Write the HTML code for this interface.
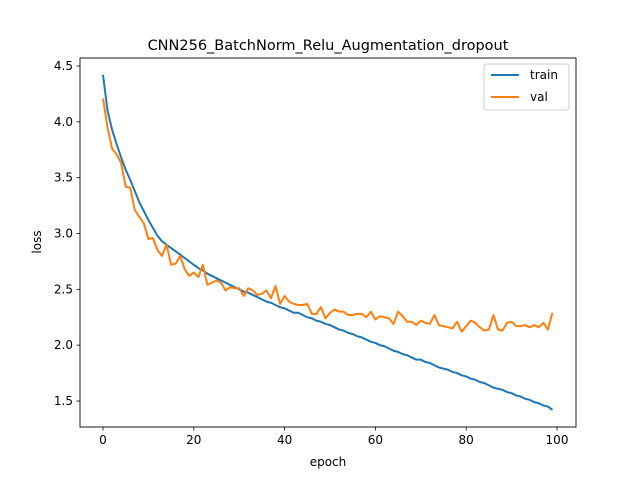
<!DOCTYPE html>
<html><head><meta charset="utf-8"><style>body{margin:0;background:#fff}svg text{font-family:"DejaVu Sans","Liberation Sans",sans-serif;fill:#000}</style></head>
<body>
<svg id="chart" width="640" height="480" xmlns="http://www.w3.org/2000/svg">
<rect width="640" height="480" fill="#fff"/>
<text x="328" y="50" font-size="14.5" text-anchor="middle">CNN256_BatchNorm_Relu_Augmentation_dropout</text>
<g id="plot"></g>
<rect x="80" y="58" width="496" height="369" fill="none" stroke="#000" stroke-width="0.9"/>
<text x="328" y="466" font-size="12" text-anchor="middle">epoch</text>
<text x="0" y="0" font-size="12" text-anchor="middle" transform="translate(41,242) rotate(-90)">loss</text>
<g>
<rect x="484" y="64" width="85" height="46" rx="3" fill="#fff" stroke="#ccc"/>
<line x1="491" y1="75" x2="519" y2="75" stroke="#1f77b4" stroke-width="2"/>
<text x="530" y="79" font-size="12">train</text>
<line x1="491" y1="97" x2="519" y2="97" stroke="#ff7f0e" stroke-width="2"/>
<text x="530" y="101" font-size="12">val</text>
</g>
</svg>
<script>
const xTicks=[0,20,40,60,80,100];
const yTicks=[1.5,2.0,2.5,3.0,3.5,4.0,4.5];
const yTickLabels=["1.5","2.0","2.5","3.0","3.5","4.0","4.5"];
const trainLoss=[4.42,4.1,3.93,3.8,3.68,3.57,3.48,3.38,3.28,3.2,3.12,3.05,2.98,2.93,2.9,2.87,2.84,2.81,2.78,2.75,
2.72,2.69,2.67,2.64,2.62,2.60,2.58,2.56,2.54,2.52,2.50,2.48,2.47,2.45,2.43,2.41,2.39,2.38,2.36,2.34,
2.33,2.31,2.29,2.29,2.27,2.25,2.24,2.22,2.21,2.19,2.18,2.16,2.14,2.13,2.11,2.10,2.08,2.07,2.05,2.03,
2.02,2.00,1.99,1.97,1.95,1.94,1.92,1.91,1.89,1.87,1.87,1.85,1.84,1.82,1.80,1.79,1.78,1.76,1.75,1.73,
1.72,1.70,1.69,1.67,1.66,1.64,1.62,1.61,1.60,1.58,1.57,1.55,1.54,1.52,1.51,1.49,1.48,1.46,1.45,1.42];
const valLoss=[4.21,3.95,3.76,3.71,3.63,3.42,3.41,3.21,3.15,3.09,2.95,2.96,2.85,2.80,2.90,2.72,2.73,2.80,2.68,2.62,
2.65,2.61,2.72,2.54,2.56,2.58,2.56,2.49,2.52,2.51,2.51,2.44,2.51,2.49,2.45,2.46,2.49,2.42,2.53,2.37,
2.44,2.39,2.37,2.36,2.36,2.37,2.28,2.28,2.34,2.24,2.29,2.32,2.30,2.30,2.27,2.27,2.28,2.28,2.25,2.30,
2.23,2.26,2.25,2.24,2.19,2.30,2.26,2.21,2.21,2.18,2.22,2.20,2.19,2.27,2.18,2.17,2.16,2.15,2.21,2.12,
2.17,2.22,2.20,2.16,2.13,2.14,2.27,2.14,2.13,2.20,2.21,2.17,2.17,2.18,2.16,2.18,2.16,2.20,2.14,2.29];
const NS="http://www.w3.org/2000/svg";
const X=v=>103+v*4.54;
const Y=v=>66+(4.5-v)*(335/3);
const g=document.getElementById('plot');
function mk(t,a){const e=document.createElementNS(NS,t);for(const k in a)e.setAttribute(k,a[k]);g.appendChild(e);return e;}
xTicks.forEach(t=>{
  const l=mk('line',{x1:X(t),x2:X(t),y1:427,y2:430.5,stroke:'#000','stroke-width':0.8});
  
  
  const s=mk('text',{x:X(t),y:444,'font-size':12,'text-anchor':'middle'});s.textContent=t;
  
  
});
yTicks.forEach((t,i)=>{
  const l=mk('line',{x1:76.5,x2:80,y1:Y(t),y2:Y(t),stroke:'#000','stroke-width':0.8});
  
  
  const s=mk('text',{x:73,y:Y(t)+4,'font-size':12,'text-anchor':'end'});s.textContent=yTickLabels[i];
  
  
});
function line(d,c,n){
  const p=mk('polyline',{points:d.map((v,i)=>X(i)+','+Y(v)).join(' '),fill:'none',stroke:c,'stroke-width':2,'stroke-linejoin':'round'});
  
  
}
line(trainLoss,'#1f77b4','train-line');
line(valLoss,'#ff7f0e','val-line');
</script>
</body></html>
